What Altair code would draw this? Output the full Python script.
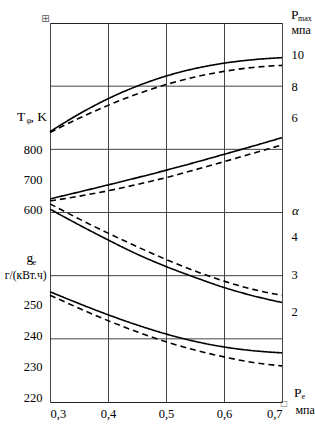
import altair as alt
import pandas as pd

# ---- data ----
PE = [0.30, 0.35, 0.40, 0.45, 0.50, 0.55, 0.60, 0.65, 0.70]
PMAX_SOLID = [5.10, 6.22, 7.19, 7.99, 8.63, 9.11, 9.45, 9.67, 9.80]
PMAX_DASH = [5.05, 5.95, 6.77, 7.49, 8.09, 8.57, 8.93, 9.18, 9.31]
T_SOLID = [637, 660, 683.5, 707.5, 732.5, 758.5, 785.5, 813, 841]
T_DASH = [630, 646, 664, 685, 708, 734, 761, 789, 817]
ALPHA_SOLID = [4.73, 4.31, 3.91, 3.53, 3.20, 2.91, 2.64, 2.42, 2.24]
ALPHA_DASH = [4.87, 4.47, 4.09, 3.73, 3.39, 3.08, 2.81, 2.59, 2.43]
GE_SOLID = [254.1, 250.3, 246.7, 243.4, 240.5, 238.1, 236.3, 235.1, 234.4]
GE_DASH = [253.0, 248.8, 244.8, 241.2, 238.0, 235.3, 233.1, 231.3, 230.2]
VARIANTS = ["solid", "dashed"]

X_TICKS = [0.3, 0.4, 0.5, 0.6, 0.7]
T_TICKS = [600, 700, 800]
GE_TICKS = [220, 230, 240, 250]
PMAX_TICKS = [6, 8, 10]
ALPHA_TICKS = [2, 3, 4]
GRID_LEVELS = [1, 2, 3, 4, 5]

# scale domains (each quantity has its own vertical scale on the shared frame)
T_DOMAIN = [-40, 1223.3]
GE_DOMAIN = [218.55, 340.8]
PMAX_DOMAIN = [-12.06, 12.0]
ALPHA_DOMAIN = [-0.413, 9.693]
GRID_DOMAIN = [0, 6]

SERIF = "Liberation Serif, Times New Roman, serif"
GRID_COLOR = "#444444"

x_axis = alt.Axis(values=X_TICKS, grid=True, gridColor=GRID_COLOR, gridWidth=1,
                  ticks=False, domain=False, title=None,
                  labelExpr="replace(format(datum.value, '.1f'), '.', ',')",
                  labelFont=SERIF, labelFontSize=12.5, labelColor="black", labelPadding=5)


def y_axis(values, orient):
    return alt.Axis(values=values, orient=orient, grid=False, ticks=False, domain=False,
                    title=None, offset=0, labelFont=SERIF, labelFontSize=12.5,
                    labelColor="black", labelPadding=8 if orient == "left" else 9,
                    labelAlign="right" if orient == "left" else "left")


def curves(solid, dashed, domain, axis):
    df = pd.DataFrame({
        "pe": PE + PE,
        "val": solid + dashed,
        "variant": [VARIANTS[0]] * len(PE) + [VARIANTS[1]] * len(PE),
    })
    return alt.Chart(df).mark_line(color="black", strokeWidth=1.6, interpolate="monotone").encode(
        x=alt.X("pe:Q", scale=alt.Scale(domain=[0.3, 0.7], nice=False, zero=False), axis=x_axis),
        y=alt.Y("val:Q", scale=alt.Scale(domain=domain, nice=False, zero=False), axis=axis),
        strokeDash=alt.StrokeDash("variant:N", scale=alt.Scale(domain=VARIANTS, range=[[1, 0], [6, 4]]),
                                  legend=None),
        detail="variant:N",
    )


def label(text, x, y, size=12, align="left", baseline="alphabetic", style="normal", font=SERIF, color="black"):
    return alt.Chart(alt.Data(values=[{}])).mark_text(
        text=text, align=align, baseline=baseline, font=font, fontSize=size,
        fontStyle=style, color=color
    ).encode(x=alt.value(x), y=alt.value(y))


hgrid = alt.Chart(pd.DataFrame({"level": GRID_LEVELS})).mark_rule(color=GRID_COLOR, strokeWidth=1).encode(
    y=alt.Y("level:Q", scale=alt.Scale(domain=GRID_DOMAIN, nice=False, zero=False), axis=None)
)

layers = [
    hgrid,
    curves(T_SOLID, T_DASH, T_DOMAIN, y_axis(T_TICKS, "left")),
    curves(GE_SOLID, GE_DASH, GE_DOMAIN, y_axis(GE_TICKS, "left")),
    curves(PMAX_SOLID, PMAX_DASH, PMAX_DOMAIN, y_axis(PMAX_TICKS, "right")),
    curves(ALPHA_SOLID, ALPHA_DASH, ALPHA_DOMAIN, y_axis(ALPHA_TICKS, "right")),
    label("⊞", -4.5, -4, size=10, align="center", baseline="middle", font="DejaVu Sans", color="#555555"),
    label("T", -33, 98, size=13.5),
    label("φ", -23.5, 100, size=8),
    label(", K", -19.5, 98, size=13.5),
    label("g", -23.5, 239, size=13.5),
    label("e", -17.5, 242, size=8),
    label("г/(кВт.ч)", -3.5, 256, size=11.5, align="right"),
    label("P", 241, -4, size=13.5),
    label("max", 248, -2, size=8),
    label("мпа", 241.5, 11, size=12),
    label("α", 242, 188, size=13, baseline="middle", style="italic"),
    label("P", 244, 373.5, size=13.5),
    label("e", 251.5, 376, size=8),
    label("мпа", 245.5, 391, size=12),
    label("□", 234, 381, size=8, align="center", baseline="middle", font="DejaVu Sans", color="#666666"),
]

chart = alt.layer(*layers).resolve_scale(y="independent").resolve_axis(y="independent").properties(
    width=232, height=379,
    autosize=alt.AutoSizeParams(type="none"),
    padding={"left": 50, "top": 23, "right": 33, "bottom": 30},
    background="white",
).configure_view(stroke="#222222", strokeWidth=1)

chart.save("out.html", embed_options={"renderer": "svg", "actions": False})
